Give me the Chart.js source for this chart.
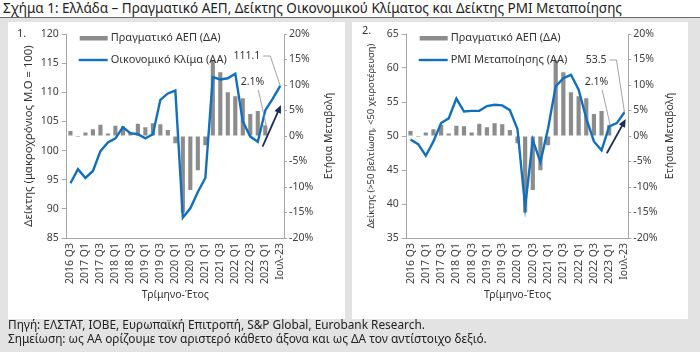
<!DOCTYPE html>
<html>
<head>
<meta charset="utf-8">
<script src="https://cdn.jsdelivr.net/npm/chart.js"></script>
<style>
  body { margin: 0; width: 700px; height: 352px; background: #e3e3e3; position: relative; overflow: hidden;
         font-family: 'Noto Sans', sans-serif; color: #222; }
  #title { position: absolute; left: 0; top: 0; width: 700px; height: 18px; box-sizing: border-box; background: #fff;
           border-bottom: 1.5px solid #6b6b6b; font-size: 13.5px; line-height: 16px; padding-left: 3px; white-space: nowrap; }
  .panel { position: absolute; top: 22px; height: 297px; background: #fff; }
  .panel canvas { position: absolute; left: 0; top: 0; }
  .num { position: absolute; font-size: 11px; color: #333; }
  #foot { position: absolute; left: 8px; top: 318px; font-size: 11.85px; line-height: 13.5px; white-space: nowrap; }
</style>
</head>
<body>
<div id="title">Σχήμα 1: Ελλάδα – Πραγματικό ΑΕΠ, Δείκτης Οικονομικού Κλίματος και Δείκτης PMI Μεταποίησης</div>
<div class="panel" style="left:8px;width:337px"><canvas id="c1" width="337" height="296"></canvas><span class="num" style="left:9px;top:3px">1.</span></div>
<div class="panel" style="left:352px;width:336px"><canvas id="c2" width="336" height="296"></canvas><span class="num" style="left:10px;top:0px">2.</span></div>
<div id="foot">Πηγή: ΕΛΣΤΑΤ, ΙΟΒΕ, Ευρωπαϊκή Επιτροπή, S&amp;P Global, Eurobank Research.<br>Σημείωση: ως ΑΑ ορίζουμε τον αριστερό κάθετο άξονα και ως ΔΑ τον αντίστοιχο δεξιό.</div>
<script>
// quarters, last point is July 2023
const categories = ['2016 Q3', '2016 Q4', '2017 Q1', '2017 Q2', '2017 Q3', '2017 Q4', '2018 Q1', '2018 Q2',
    '2018 Q3', '2018 Q4', '2019 Q1', '2019 Q2', '2019 Q3', '2019 Q4', '2020 Q1', '2020 Q2', '2020 Q3',
    '2020 Q4', '2021 Q1', '2021 Q2', '2021 Q3', '2021 Q4', '2022 Q1', '2022 Q2', '2022 Q3', '2022 Q4',
    '2023 Q1', '2023 Q2', 'Ιουλ-23'];

// real GDP, yoy % (right axis)
const gdpGrowth = [1.0, -0.2, 0.7, 1.3, 2.2, 0.5, 2.0, 1.9, 0.7, 2.4, 1.7, 2.5, 2.3, 1.2, -1.4, -15.0,
    -10.6, -6.7, -1.8, 14.8, 12.5, 8.6, 7.8, 7.4, 4.3, 4.9, 2.1, null, null];

// economic sentiment (left axis, panel 1)
const climateIndex = [94.4, 96.8, 95.3, 96.5, 99.9, 101.4, 102.1, 104.0, 103.0, 102.8, 102.1, 102.8, 108.7,
    109.8, 110.3, 88.5, 90.1, 92.9, 95.3, 112.6, 112.2, 112.4, 113.2, 105.0, 102.4, 101.5, 106.9, 108.9, 111.1];

// manufacturing PMI (left axis, panel 2)
const pmiIndex = [49.5, 48.8, 47.1, 49.2, 51.9, 52.6, 55.5, 53.6, 53.7, 53.7, 54.4, 54.6, 54.5, 53.8, 51.0,
    39.6, 49.4, 46.2, 51.1, 57.3, 58.5, 59.0, 56.8, 52.6, 49.2, 47.9, 51.4, 51.9, 53.5];

const gdpLabel = 'Πραγματικό ΑΕΠ (ΔΑ)';
const climateLabel = 'Οικονομικό Κλίμα (ΑΑ)';
const pmiLabel = 'PMI Μεταποίησης (ΑΑ)';
const growthTicks = [-20, -15, -10, -5, 0, 5, 10, 15, 20];

const BLUE = '#1170bd';
const GRAY = '#8c8c8c';
const AXIS = '#a6a6a6';
const FONT = "'Noto Sans', sans-serif";

Chart.defaults.font.family = FONT;
Chart.defaults.color = '#404040';

const extras = {
    id: 'extras',
    afterDatasetsDraw(chart, args, o) {
        const { ctx, chartArea: a, scales } = chart;
        const x = scales.x, yL = scales.yL, yR = scales.yR;
        const line = chart.data.datasets[0], bar = chart.data.datasets[1];
        ctx.save();

        // legend inside the plot
        ctx.font = '11px ' + FONT;
        ctx.textBaseline = 'middle';
        ctx.textAlign = 'left';
        ctx.fillStyle = GRAY;
        ctx.fillRect(a.left + 13, a.top + 2, 28, 4.5);
        ctx.strokeStyle = BLUE;
        ctx.lineWidth = 2.4;
        ctx.beginPath();
        ctx.moveTo(a.left + 12, a.top + 26);
        ctx.lineTo(a.left + 41, a.top + 26);
        ctx.stroke();
        ctx.fillStyle = '#333';
        ctx.fillText(bar.label, a.left + 44, a.top + 3.5);
        ctx.fillText(line.label, a.left + 44, a.top + 26);

        // last value of the line
        const li = line.data.length - 1;
        const lv = line.data[li];
        const px = x.getPixelForValue(li), py = yL.getPixelForValue(lv);
        ctx.font = '10.5px ' + FONT;
        ctx.textAlign = 'right';
        ctx.fillText(lv.toFixed(1), px + o.valDx, a.top + o.valDy);
        ctx.strokeStyle = '#8a8a8a';
        ctx.lineWidth = 0.8;
        ctx.beginPath();
        ctx.moveTo(px + o.valDx + 3, a.top + o.valDy);
        ctx.lineTo(px + o.valDx + 10, a.top + o.valDy);
        ctx.lineTo(px, py);
        ctx.stroke();

        // last GDP bar
        let bi = bar.data.length - 1;
        while (bar.data[bi] == null) bi--;
        const bv = bar.data[bi];
        const bx = x.getPixelForValue(bi), by = yR.getPixelForValue(bv);
        ctx.fillText(bv.toFixed(1) + '%', bx - 1, a.top + 48.5);
        ctx.beginPath();
        ctx.moveTo(bx - 7, a.top + 56);
        ctx.lineTo(bx + 1, by);
        ctx.stroke();

        // arrow
        const z = yR.getPixelForValue(0);
        const x0 = bx + o.arrow[0], y0 = z + o.arrow[1], x1 = px + o.arrow[2], y1 = z + o.arrow[3];
        const ang = Math.atan2(y1 - y0, x1 - x0);
        ctx.strokeStyle = '#1c2b5e';
        ctx.fillStyle = '#1c2b5e';
        ctx.lineWidth = 1.8;
        ctx.beginPath();
        ctx.moveTo(x0, y0);
        ctx.lineTo(x1 - 5 * Math.cos(ang), y1 - 5 * Math.sin(ang));
        ctx.stroke();
        ctx.beginPath();
        ctx.moveTo(x1, y1);
        ctx.lineTo(x1 - 8 * Math.cos(ang) + 3.5 * Math.sin(ang), y1 - 8 * Math.sin(ang) - 3.5 * Math.cos(ang));
        ctx.lineTo(x1 - 8 * Math.cos(ang) - 3.5 * Math.sin(ang), y1 - 8 * Math.sin(ang) + 3.5 * Math.cos(ang));
        ctx.closePath();
        ctx.fill();

        // right axis title, reads bottom to top
        ctx.translate(yR.left + o.rTitleX, (a.top + a.bottom) / 2);
        ctx.rotate(-Math.PI / 2);
        ctx.textAlign = 'center';
        ctx.fillStyle = '#333';
        ctx.font = '10.5px ' + FONT;
        ctx.fillText('Ετήσια Μεταβολή', 0, 0);
        ctx.restore();
    }
};

function makePanel(id, cfg) {
    return new Chart(document.getElementById(id), {
        data: {
            labels: categories,
            datasets: [
                {
                    type: 'line', label: cfg.lineLabel, data: cfg.lineData, yAxisID: 'yL',
                    borderColor: BLUE, borderWidth: 2.4, pointRadius: 0, tension: 0, order: 0
                },
                {
                    type: 'bar', label: gdpLabel, data: gdpGrowth, yAxisID: 'yR',
                    backgroundColor: GRAY, barPercentage: 0.55, categoryPercentage: 1, order: 1
                }
            ]
        },
        options: {
            responsive: false,
            animation: false,
            layout: { padding: { left: 10, right: 0, top: 12, bottom: 16.7 } },
            plugins: {
                legend: { display: false },
                tooltip: { enabled: false },
                extras: cfg.extras
            },
            scales: {
                x: {
                    offset: true,
                    grid: { display: false, drawTicks: false },
                    border: { color: AXIS },
                    ticks: {
                        autoSkip: false, maxRotation: 90, minRotation: 90, padding: 5,
                        font: { size: 10.5 },
                        callback(v, i) { return i % 2 === 0 ? this.getLabelForValue(v) : ''; }
                    },
                    title: { display: true, text: 'Τρίμηνο-Έτος', font: { size: 10.5 }, color: '#333', padding: 0 },
                    afterFit(s) { s.height = 63.3; }
                },
                yL: {
                    position: 'left', min: cfg.min, max: cfg.max,
                    grid: { drawOnChartArea: false, tickLength: 5, color: AXIS },
                    border: { color: AXIS },
                    ticks: { stepSize: 5, padding: 3, font: { size: 10.5 } },
                    title: {
                        display: true, text: cfg.leftTitle, font: { size: cfg.leftTitleSize }, color: '#333',
                        padding: { top: 4, bottom: 0 }
                    },
                    afterFit(s) { s.width = cfg.leftW; }
                },
                yR: {
                    position: 'right', min: -20, max: 20,
                    grid: { drawOnChartArea: false, tickLength: 3, color: AXIS },
                    border: { color: AXIS },
                    afterBuildTicks(s) { s.ticks = growthTicks.map(v => ({ value: v })); },
                    ticks: { padding: 2, font: { size: 10.5 }, callback: v => v + '%' },
                    afterFit(s) { s.width = cfg.rightW; }
                }
            }
        },
        plugins: [extras]
    });
}

makePanel('c1', {
    lineLabel: climateLabel, lineData: climateIndex, min: 85, max: 120,
    leftTitle: 'Δείκτης (μακροχρόνιος Μ.Ο = 100)', leftTitleSize: 11.3, leftW: 48.7, rightW: 61,
    extras: { valDx: -20, valDy: 22, arrow: [-2.7, 10.7, 0.7, -31], rTitleX: 45 }
});

makePanel('c2', {
    lineLabel: pmiLabel, lineData: pmiIndex, min: 35, max: 65,
    leftTitle: 'Δείκτης (>50 βελτίωση, <50 χειροτέρευση)', leftTitleSize: 9.4, leftW: 44.7, rightW: 59.7,
    extras: { valDx: -18, valDy: 26, arrow: [-2.4, 17.3, 1.3, -17], rTitleX: 42 }
});
</script>
</body>
</html>
